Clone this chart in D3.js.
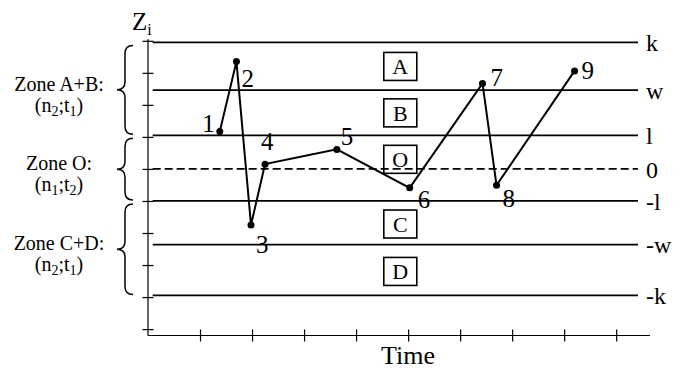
<!DOCTYPE html>
<html>
<head>
<meta charset="utf-8">
<script src="https://cdn.jsdelivr.net/npm/d3@7"></script>
<style>
  html, body { margin: 0; padding: 0; background: #fff; }
  svg { display: block; }
  text { font-family: "Liberation Serif", "Times New Roman", serif; fill: #000; }
</style>
</head>
<body>
<svg id="chart" width="688" height="372"></svg>
<script>
// ---- data ----
const pointLabels = ["1", "2", "3", "4", "5", "6", "7", "8", "9"];
const pointTime   = [1.38, 1.70, 1.98, 2.25, 3.63, 5.03, 6.43, 6.70, 8.20];
const pointZ      = [1.17, 3.35, -1.75, 0.15, 0.61, -0.59, 2.67, -0.51, 3.06];

const limitLabels = ["k", "w", "l", "0", "-l", "-w", "-k"];
const limitValues = [3.95, 2.46, 1.05, 0, -1.0, -2.36, -3.95];
const limitDashed = [false, false, false, true, false, false, false];

const regionLabels = ["A", "B", "O", "C", "D"];
const regionZ      = [3.2, 1.75, 0.3, -1.72, -3.2];

const zoneTitles = ["Zone A+B:", "Zone O:", "Zone C+D:"];
const zoneParams = [["2", "1"], ["1", "2"], ["2", "1"]];
const zoneHigh   = [3.95, 1.05, -1.0];
const zoneLow    = [1.05, -1.0, -3.95];

const xTickValues = [1, 2, 3, 4, 5, 6, 7, 8, 9];
const yTickValues = [-5, -4, -3, -2, -1, 0, 1, 2, 3, 4];

// ---- layout ----
const svg = d3.select("#chart");
const x = d3.scaleLinear().domain([0, 9.65]).range([148, 650]);
const y = d3.scaleLinear().domain([-5.2, 4.05]).range([335.5, 39.2]);

// label placement offsets (px) for point numbers
const labelDx = [-5, 5, 5, -4, 4, 8, 8, 6, 7];
const labelDy = [1, 25, 28, -14, -4, 20, 3, 22, 8];
const labelAnchor = ["end", "start", "start", "start", "start", "start", "start", "start", "start"];

// ---- axes ----
const xAxis = d3.axisBottom(x).tickValues(xTickValues).tickSize(12).tickFormat("");
const gx = svg.append("g").attr("transform", `translate(0,${y(-5.2)})`).call(xAxis);
gx.selectAll(".tick line").attr("transform", "translate(0,-6)");
gx.select(".domain").attr("d", `M${x(0)},0H${x(9.65)}`);

const yAxis = d3.axisLeft(y).tickValues(yTickValues).tickSize(11).tickFormat("");
const gy = svg.append("g").attr("transform", `translate(${x(0)},0)`).call(yAxis);
gy.selectAll(".tick line").attr("transform", "translate(5.5,0)");
gy.select(".domain").attr("d", `M0,${y(4.05)}V${y(-5.2)}`);

svg.selectAll(".domain, .tick line").attr("stroke", "#000").attr("stroke-width", 1.2);

// ---- limit lines ----
const lineX0 = x(0.09), lineX1 = x(9.42);
svg.append("g").selectAll("line")
  .data(limitValues)
  .join("line")
  .attr("x1", lineX0).attr("x2", lineX1)
  .attr("y1", d => y(d)).attr("y2", d => y(d))
  .attr("stroke", "#000")
  .attr("stroke-width", 1.8)
  .attr("stroke-dasharray", (d, i) => limitDashed[i] ? "8,4" : null);

svg.append("g").selectAll("text")
  .data(limitLabels)
  .join("text")
  .attr("x", lineX1 + 8)
  .attr("y", (d, i) => y(limitValues[i]))
  .attr("dy", "0.36em")
  .attr("font-size", 24)
  .text(d => d);

// ---- region boxes ----
const boxW = 33, boxH = 28, boxX = x(4.85);
const rg = svg.append("g").selectAll("g")
  .data(regionLabels)
  .join("g")
  .attr("transform", (d, i) => `translate(${boxX},${y(regionZ[i])})`);
rg.append("rect")
  .attr("x", -boxW / 2).attr("y", -boxH / 2)
  .attr("width", boxW).attr("height", boxH)
  .attr("fill", "none").attr("stroke", "#000").attr("stroke-width", 1.6);
rg.append("text")
  .attr("text-anchor", "middle")
  .attr("dy", "0.35em")
  .attr("font-size", 22)
  .text(d => d);

// ---- series ----
const pts = pointTime.map((t, i) => [x(t), y(pointZ[i])]);
svg.append("path")
  .attr("d", d3.line()(pts))
  .attr("fill", "none")
  .attr("stroke", "#000")
  .attr("stroke-width", 2)
  .attr("stroke-linejoin", "miter");

svg.append("g").selectAll("circle")
  .data(pts)
  .join("circle")
  .attr("cx", d => d[0]).attr("cy", d => d[1])
  .attr("r", 3.5).attr("fill", "#000");

svg.append("g").selectAll("text")
  .data(pointLabels)
  .join("text")
  .attr("x", (d, i) => pts[i][0] + labelDx[i])
  .attr("y", (d, i) => pts[i][1] + labelDy[i])
  .attr("text-anchor", (d, i) => labelAnchor[i])
  .attr("font-size", 25)
  .text(d => d);

// ---- axis titles ----
const zt = svg.append("text").attr("x", x(0) - 16).attr("y", 30).attr("font-size", 25);
zt.append("tspan").text("Z");
zt.append("tspan").attr("font-size", 16).attr("dy", 5).text("i");

svg.append("text")
  .attr("x", x(5)).attr("y", 364)
  .attr("text-anchor", "middle")
  .attr("font-size", 26)
  .text("Time");

// ---- zone braces and labels ----
const braceXr = 133, braceXm = 125, braceXl = 117, r = 8;
zoneTitles.forEach((title, i) => {
  const top = y(zoneHigh[i]) + 3;
  const bot = y(zoneLow[i]) - 1;
  const mid = (top + bot) / 2;
  const p = d3.path();
  p.moveTo(braceXr, top);
  p.quadraticCurveTo(braceXm, top, braceXm, top + r);
  p.lineTo(braceXm, mid - r);
  p.quadraticCurveTo(braceXm, mid, braceXl, mid);
  p.quadraticCurveTo(braceXm, mid, braceXm, mid + r);
  p.lineTo(braceXm, bot - r);
  p.quadraticCurveTo(braceXm, bot, braceXr, bot);
  svg.append("path").attr("d", p.toString())
    .attr("fill", "none").attr("stroke", "#000").attr("stroke-width", 1.5);

  const cx = 59;
  svg.append("text")
    .attr("x", cx).attr("y", mid + 1)
    .attr("text-anchor", "middle").attr("font-size", 20)
    .text(title);
  const t2 = svg.append("text")
    .attr("x", cx).attr("y", mid + 22)
    .attr("text-anchor", "middle").attr("font-size", 20);
  t2.append("tspan").text("(n");
  t2.append("tspan").attr("font-size", 14).attr("dy", 4).text(zoneParams[i][0]);
  t2.append("tspan").attr("dy", -4).text(";t");
  t2.append("tspan").attr("font-size", 14).attr("dy", 4).text(zoneParams[i][1]);
  t2.append("tspan").attr("dy", -4).text(")");
});
</script>
</body>
</html>
